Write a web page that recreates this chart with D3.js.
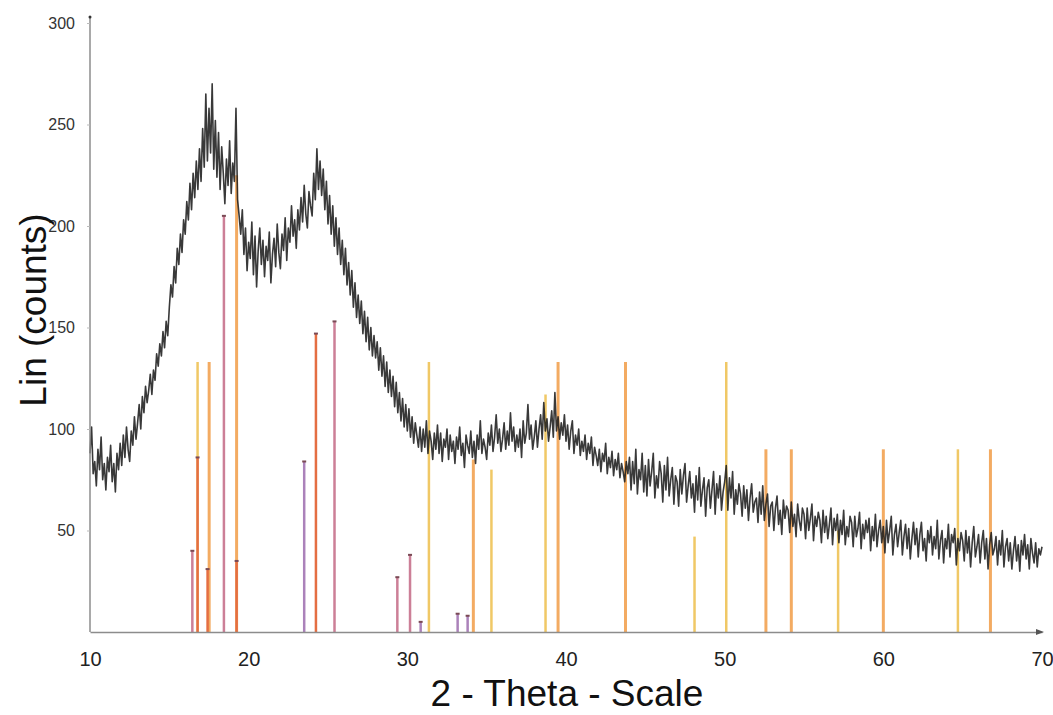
<!DOCTYPE html>
<html>
<head>
<meta charset="utf-8">
<script src="https://cdn.jsdelivr.net/npm/d3@7/dist/d3.min.js"></script>
<style>
  body { margin: 0; background: #fff; }
  text { font-family: "Liberation Sans", Arial, sans-serif; }
</style>
</head>
<body>
<div class="xrd"></div>
<script>
// scan: 2-theta from 10 to 70 in steps of 0.1, counts
var scanStart = 10, scanStep = 0.1;
var counts = [
  88, 101, 78, 84, 72, 90, 80, 96, 75, 83,
  70, 86, 79, 92, 74, 83, 69, 88, 80, 93,
  82, 97, 86, 101, 90, 84, 99, 92, 106, 95,
  103, 112, 100, 116, 108, 121, 113, 119, 127, 117,
  129, 124, 137, 131, 142, 136, 148, 140, 153, 146,
  160, 171, 165, 180, 172, 189, 181, 196, 187, 203,
  196, 212, 203, 221, 208, 226, 214, 232, 218, 238,
  222, 248, 229, 265, 232, 258, 236, 270, 228, 252,
  224, 246, 218, 239, 226, 211, 233, 220, 242, 216,
  231, 222, 258, 213, 205, 196, 208, 186, 199, 178,
  192, 184, 202, 176, 195, 170, 188, 199, 181, 193,
  175, 190, 183, 197, 172, 186, 194, 180, 201, 187,
  179, 196, 188, 204, 183, 199, 192, 210, 195, 203,
  189, 208, 198, 214, 202, 220, 206, 199, 217, 210,
  205, 226, 213, 238, 218, 232, 215, 228, 208, 222,
  201, 215, 196, 210, 190, 204, 186, 199, 181, 193,
  176, 189, 171, 182, 166, 178, 160, 172, 155, 166,
  152, 163, 147, 158, 143, 155, 139, 150, 136, 146,
  135, 143, 129, 140, 126, 136, 121, 133, 118, 129,
  116, 126, 111, 123, 108, 118, 104, 115, 101, 112,
  99, 110, 96, 106, 93, 103, 97, 91, 101, 89,
  100, 91, 104, 88, 99, 94, 85, 98, 90, 102,
  88, 98, 84, 95, 91, 100, 85, 97, 89, 94,
  83, 96, 90, 101, 87, 93, 81, 97, 92, 88,
  99, 86, 94, 83, 97, 90, 104, 88, 95, 91,
  85, 98, 92, 102, 89, 96, 107, 93, 100, 89,
  95, 103, 90, 99, 92, 108, 94, 101, 89, 97,
  91, 100, 86, 104, 93, 98, 112, 95, 102, 90,
  96, 104, 91, 100, 107, 95, 113, 99, 105, 94,
  101, 109, 96, 118, 99, 106, 95, 103, 97, 107,
  94, 102, 90, 99, 104, 88, 97, 92, 100, 87,
  94, 89, 97, 85, 93, 88, 96, 82, 91, 87,
  82, 90, 79, 88, 84, 93, 78, 86, 81, 89,
  77, 85, 80, 88, 76, 83, 79, 74, 84, 78,
  86, 70, 84, 73, 90, 68, 80, 75, 88, 69,
  82, 67, 85, 72, 79, 88, 66, 77, 71, 84,
  78, 64, 82, 70, 86, 67, 75, 81, 63, 77,
  74, 62, 80, 68, 77, 83, 64, 72, 79, 66,
  73, 59, 77, 65, 81, 62, 70, 76, 57, 71,
  75, 61, 70, 79, 58, 73, 66, 77, 60, 69,
  74, 82, 60, 76, 66, 79, 58, 70, 63, 73,
  68, 57, 72, 61, 70, 55, 66, 73, 59, 64,
  66, 54, 69, 58, 72, 55, 63, 68, 52, 62,
  64, 50, 61, 67, 53, 60, 48, 65, 56, 62,
  60, 49, 64, 52, 58, 47, 63, 55, 50, 61,
  58, 46, 61, 50, 56, 63, 45, 57, 52, 59,
  55, 44, 60, 49, 57, 46, 53, 61, 43, 56,
  50, 58, 44, 55, 48, 60, 43, 52, 47, 57,
  54, 42, 57, 47, 51, 59, 41, 53, 46, 55,
  49, 56, 40, 52, 45, 58, 42, 50, 55, 44,
  52, 39, 55, 44, 50, 57, 38, 48, 53, 42,
  49, 55, 38, 47, 53, 41, 51, 36, 46, 54,
  43, 51, 37, 48, 54, 40, 46, 35, 50, 44,
  52, 38, 47, 41, 55, 36, 45, 50, 34, 46,
  41, 53, 37, 48, 44, 51, 33, 46, 40, 49,
  45, 35, 50, 39, 47, 32, 44, 52, 37, 42,
  48, 34, 44, 50, 36, 46, 31, 43, 49, 38,
  41, 47, 33, 45, 38, 50, 32, 42, 46, 35,
  44, 31, 40, 47, 35, 43, 30, 45, 38, 48,
  36, 43, 31, 46, 39, 34, 44, 32, 41, 38,
  42
];

// reference patterns: [2-theta, intensity]
var phaseMauve  = [[16.45, 40], [18.44, 205], [25.41, 153], [29.37, 27], [30.17, 38]];
var phaseRed    = [[16.78, 86], [17.41, 31], [19.24, 35], [24.24, 147]];
var phasePurple = [[23.5, 84], [30.84, 5], [33.17, 9], [33.8, 8]];
var phaseOrange = [[17.51, 133], [19.24, 225], [34.16, 85], [39.5, 133], [43.75, 133],
                   [52.6, 90], [54.2, 90], [60.0, 90], [66.75, 90]];
var phaseYellow = [[16.78, 133], [31.36, 133], [35.3, 80], [38.71, 117], [48.1, 47],
                   [50.1, 133], [57.15, 50], [64.7, 90]];

var xTicks = [10, 20, 30, 40, 50, 60, 70];
var yTicks = [50, 100, 150, 200, 250, 300];

var width = 1053, height = 715;

var x = d3.scaleLinear().domain([10, 70]).range([90, 1042]);
var y = d3.scaleLinear().domain([0, 300]).range([632, 23]);

var svg = d3.select(".xrd").append("svg")
    .attr("width", width)
    .attr("height", height);

// sticks (drawn behind the scan)
var phases = [
  {data: phaseYellow, color: "#f0c866", w: 2.5, cap: false},
  {data: phaseOrange, color: "#f3ab62", w: 3, cap: false},
  {data: phaseMauve, color: "#cc7f97", w: 2.5, cap: true},
  {data: phaseRed, color: "#e46e42", w: 2.5, cap: true},
  {data: phasePurple, color: "#ab82ba", w: 2.5, cap: true}
];

phases.forEach(function(p) {
  var g = svg.append("g");
  g.selectAll("line")
      .data(p.data)
    .enter().append("line")
      .attr("x1", function(d) { return x(d[0]); })
      .attr("x2", function(d) { return x(d[0]); })
      .attr("y1", y(0))
      .attr("y2", function(d) { return y(d[1]); })
      .attr("stroke", p.color)
      .attr("stroke-width", p.w);
  if (p.cap) {
    g.selectAll("rect")
        .data(p.data)
      .enter().append("rect")
        .attr("x", function(d) { return x(d[0]) - 2; })
        .attr("y", function(d) { return y(d[1]) - 1; })
        .attr("width", 4)
        .attr("height", 2)
        .attr("fill", "#7a4a55");
  }
});

// scan line
var scanLine = d3.line()
    .x(function(d, i) { return x(scanStart + i * scanStep); })
    .y(function(d) { return y(d); });

svg.append("path")
    .datum(counts)
    .attr("fill", "none")
    .attr("stroke", "#1e1e1e")
    .attr("stroke-width", 1.6)
    .attr("stroke-opacity", 0.88)
    .attr("stroke-linejoin", "round")
    .attr("d", scanLine);

// y axis
var yAxis = svg.append("g")
    .attr("transform", "translate(" + x(10) + ",0)")
    .call(d3.axisLeft(y).tickValues(yTicks).tickSize(3).tickPadding(12));
yAxis.select(".domain").attr("stroke", "#8c8c8c").attr("stroke-width", 1.5)
    .attr("d", "M0," + (y(300) - 6) + "V" + y(0));
yAxis.selectAll(".tick line").attr("stroke", "#bbb");
yAxis.selectAll(".tick text")
    .attr("font-size", 16)
    .attr("fill", "#333");

// x axis
var xAxis = svg.append("g")
    .attr("transform", "translate(0," + y(0) + ")")
    .call(d3.axisBottom(x).tickValues(xTicks).tickSize(0).tickPadding(20));
xAxis.select(".domain").attr("stroke", "#8c8c8c").attr("stroke-width", 1.5);
xAxis.selectAll(".tick text")
    .attr("font-size", 20)
    .attr("fill", "#222");
xAxis.append("path")
    .attr("d", "M" + (x(70) + 2) + ",0L" + (x(70) - 6) + ",-3L" + (x(70) - 6) + ",3Z")
    .attr("fill", "#555");

svg.append("circle")
    .attr("cx", x(10)).attr("cy", y(300) - 6).attr("r", 1.5).attr("fill", "#333");

// titles
svg.append("text")
    .attr("x", 567)
    .attr("y", 706)
    .attr("text-anchor", "middle")
    .attr("font-size", 37)
    .attr("fill", "#111")
    .text("2 - Theta - Scale");

svg.append("text")
    .attr("transform", "translate(46,310) rotate(-90)")
    .attr("text-anchor", "middle")
    .attr("font-size", 37)
    .attr("fill", "#111")
    .text("Lin (counts)");
</script>
</body>
</html>
